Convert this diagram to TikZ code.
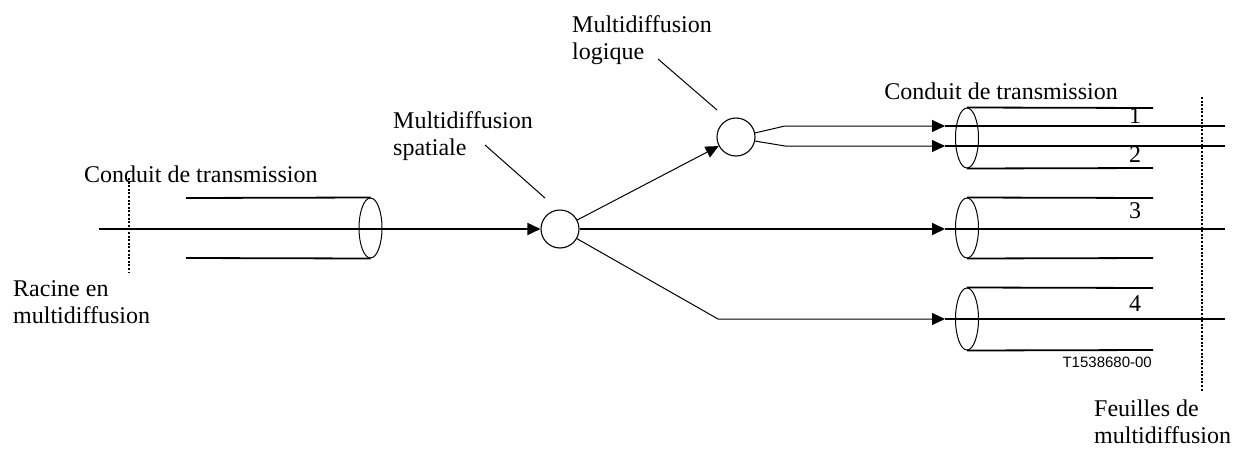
\documentclass[tikz,border=0pt]{standalone}
\usepackage{fontspec}
\setmainfont{Liberation Serif}
\newfontfamily\labelsans{Liberation Sans}
\usetikzlibrary{arrows.meta,shapes.geometric}
\begin{document}
\begin{tikzpicture}[x=1pt,y=-1pt,
  thickline/.style={line width=1.8pt},
  thinline/.style={line width=1pt},
  arr/.style={-{Triangle[length=13pt,width=12pt]}},
  hub/.style={circle,draw,line width=1.1pt,minimum size=38pt,inner sep=0pt},
  pipeend/.style={ellipse,draw,line width=1pt,minimum width=23pt,minimum height=60pt,inner sep=0pt},
  lbl/.style={font=\fontsize{24}{27}\selectfont,inner sep=0pt,align=left},
  num/.style={font=\fontsize{24}{27}\selectfont,inner sep=0pt,anchor=base},
  boundary/.style={line width=1.8pt,dash pattern=on 2pt off 1.6pt},
]
\useasboundingbox (0,0) rectangle (1235,450);

% boundaries
\coordinate (rtop) at (129,178); \coordinate (rbot) at (129,273);
\coordinate (ftop) at (1202,97); \coordinate (fbot) at (1202,392);
\draw[boundary] (rtop) -- (rbot);
\draw[boundary] (ftop) -- (fbot);

% hubs
\node[hub] (spatial) at (560,229) {};
\node[hub] (logic) at (736,137) {};

% left pipe
\node[pipeend,minimum height=60pt] (e0) at (370.5,228) {};
\coordinate (p0a) at (186,198);
\coordinate (p0b) at (186,258);
\draw[thickline] (p0a) -- (e0.north);
\draw[thickline] (p0b) -- (e0.south);

% right pipes
\node[pipeend] (e1) at (967,138) {};
\node[pipeend] (e3) at (967,228) {};
\node[pipeend,minimum height=62pt] (e4) at (967,319) {};
\coordinate (e1a) at (1153,108); \coordinate (e1b) at (1153,168);
\coordinate (e3a) at (1153,198); \coordinate (e3b) at (1153,258);
\coordinate (e4a) at (1153,288); \coordinate (e4b) at (1153,350);
\draw[thickline] (e1.north) -- (e1a);
\draw[thickline] (e1.south) -- (e1b);
\draw[thickline] (e3.north) -- (e3a);
\draw[thickline] (e3.south) -- (e3b);
\draw[thickline] (e4.north) -- (e4a);
\draw[thickline] (e4.south) -- (e4b);

% root line
\coordinate (root) at (99,229);
\draw[thickline,arr] (root) -- (spatial.west);

% spatial -> logic
\draw[thinline,arr] (spatial) -- (logic);

% logical outputs
\coordinate (k1) at (785,126); \coordinate (in1) at (945,126);
\coordinate (k2) at (785,146); \coordinate (in2) at (945,146);
\draw[thinline,arr] (logic.12) -- (k1) -- (in1);
\draw[thinline,arr] (logic.-12) -- (k2) -- (in2);

% spatial -> 3
\coordinate (in3) at (945,229);
\draw[thickline,arr] (spatial.east) -- (in3);

% spatial -> 4
\coordinate (bend4) at (718,319); \coordinate (in4) at (945,319);
\draw[thinline,arr] (spatial) -- (bend4) -- (in4);

% leaves
\coordinate (l1) at (1225,126);
\coordinate (l2) at (1225,146);
\coordinate (l3) at (1225,229);
\coordinate (l4) at (1225,319);
\draw[thickline] (in1) -- (l1);
\draw[thickline] (in2) -- (l2);
\draw[thickline] (in3) -- (l3);
\draw[thickline] (in4) -- (l4);

% leaders
\coordinate (sa) at (485,145); \coordinate (sb) at (545,198);
\coordinate (la) at (658,59); \coordinate (lb) at (717,110);
\draw[thinline] (sa) -- (sb);
\draw[thinline] (la) -- (lb);

% labels
\node[lbl,anchor=north west] (tconduitL) at (84,165.6) {Conduit de transmission};
\node[lbl,anchor=north west] (troot) at (13,280.8) {Racine en\\multidiffusion};
\node[lbl,anchor=north west] (tspatial) at (393,111.6) {Multidiffusion\\spatiale};
\node[lbl,anchor=north west] (tlogic) at (572,15.6) {Multidiffusion\\logique};
\node[lbl,anchor=north east] (tconduitR) at (1118,82.6) {Conduit de transmission};
\node[lbl,anchor=north west] (tleaves) at (1094,400) {Feuilles de\\multidiffusion};

\node[num] (n1) at (1135,123) {1};
\node[num] (n2) at (1135,162) {2};
\node[num] (n3) at (1135,218) {3};
\node[num] (n4) at (1135,311) {4};

\node[inner sep=0pt,anchor=base east,font=\labelsans\fontsize{15}{18}\selectfont] (tref) at (1152,367) {T1538680-00};
\end{tikzpicture}
\end{document}
